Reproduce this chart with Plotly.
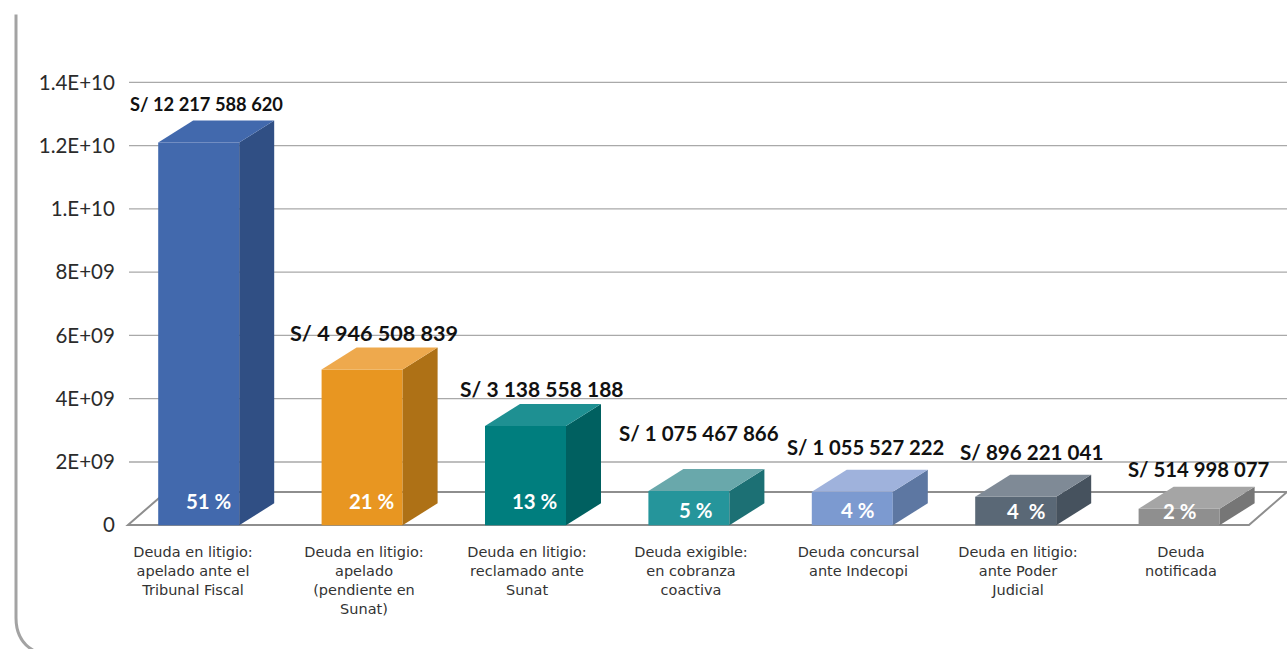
import numpy as np
import plotly.graph_objects as go

categories = [
    "Deuda en litigio:<br>apelado ante el<br>Tribunal Fiscal",
    "Deuda en litigio:<br>apelado<br>(pendiente en<br>Sunat)",
    "Deuda en litigio:<br>reclamado ante<br>Sunat",
    "Deuda exigible:<br>en cobranza<br>coactiva",
    "Deuda concursal<br>ante Indecopi",
    "Deuda en litigio:<br>ante Poder<br>Judicial",
    "Deuda<br>notificada",
]
values = [12.1e9, 4.92e9, 3.14e9, 1.08e9, 1.06e9, 0.9e9, 0.52e9]
amount_labels = ["S/ 12 217 588 620", "S/ 4 946 508 839", "S/ 3 138 558 188", "S/ 1 075 467 866",
                 "S/ 1 055 527 222", "S/ 896 221 041", "S/ 514 998 077"]
share_labels = ["51 %", "21 %", "13 %", "5 %", "4 %", "4  %", "2 %"]
y_ticks = [0, 2e9, 4e9, 6e9, 8e9, 1e10, 1.2e10, 1.4e10]
y_tick_labels = ["0", "2E+09", "4E+09", "6E+09", "8E+09", "1.E+10", "1.2E+10", "1.4E+10"]

front = ["#4269ad", "#e89621", "#007e7e", "#25959b", "#7c9ad0", "#5a6876", "#8f8f8f"]
side = ["#304f84", "#ae7116", "#006060", "#1c7074", "#5d77a2", "#46525e", "#767676"]
top = ["#4269ad", "#eea94d", "#1e9092", "#69a8ab", "#9fb2dc", "#7f8a96", "#a5a5a5"]

W, H = 1287, 649
L, R = 129, 1287
Y0, Y14 = 525.3, 82
PXY = (Y0 - Y14) / 1.4e10
YMIN, YMAX = -0.15e9, 1.42e10
T = Y14 - (YMAX - 1.4e10) * PXY
B = Y0 - YMIN * PXY
PXX = 163.4
X0PX = 198.7
XMIN, XMAX = (L - X0PX) / PXX, (R - X0PX) / PXX
BAR_W = 81 / PXX
DX, DY = 35 / PXX, 22 / PXY
x = np.arange(len(values), dtype=float)


def px(v):
    return (v - L) / (R - L)


def py(v):
    return (B - v) / (B - T)


fig = go.Figure()
fig.add_trace(go.Bar(x=x, y=values, width=BAR_W, marker=dict(color=front, line=dict(width=0)),
                     showlegend=False, hoverinfo="skip"))
for i, v in enumerate(values):
    l, r = x[i] - BAR_W / 2, x[i] + BAR_W / 2
    fig.add_trace(go.Scatter(x=[r, r + DX, r + DX, r, r], y=[0, DY, v + DY, v, 0], mode="lines",
                             fill="toself", fillcolor=side[i], line=dict(width=0), cliponaxis=False,
                             showlegend=False, hoverinfo="skip"))
    fig.add_trace(go.Scatter(x=[l, l + DX, r + DX, r, l], y=[v, v + DY, v + DY, v, v], mode="lines",
                             fill="toself", fillcolor=top[i], line=dict(width=0), cliponaxis=False,
                             showlegend=False, hoverinfo="skip"))

shapes = []
for t in y_ticks[1:]:
    shapes.append(dict(type="line", xref="paper", yref="y", x0=0, x1=1, y0=t, y1=t,
                       line=dict(color="#a9a9a9", width=1.3), layer="below"))
FLOOR_C = "#8e8e8e"
shapes.append(dict(type="path", xref="paper", yref="paper", layer="below",
                   path=f"M {px(128)} {py(525)} L {px(1249)} {py(525)} L {px(1287)} {py(492)} L {px(166)} {py(492)} Z",
                   line=dict(color=FLOOR_C, width=2)))
shapes.append(dict(type="path", xref="paper", yref="paper", layer="above",
                   path=f"M {px(16)} {py(14)} L {px(16)} {py(618)} Q {px(16)} {py(642)} {px(36)} {py(652)}",
                   line=dict(color="#a3a3a3", width=3)))

annos = []
amount_pos = [(206, 104, 18.3), (374, 333, 21.6), (542, 388, 21), (699, 433, 20.5),
              (865.5, 447, 20.2), (1031.5, 452, 20.6), (1198, 469, 20.3)]
for s, (cx, cy, fs) in zip(amount_labels, amount_pos):
    annos.append(dict(text=f"<b>{s}</b>", xref="paper", yref="paper", x=px(cx), y=py(cy), showarrow=False,
                      xanchor="center", yanchor="middle", font=dict(family="Lato", size=fs, color="#111111")))
share_pos = [(208, 501), (371, 501), (534, 501), (696, 510), (858, 510), (1026, 511), (1180, 511)]
for s, (cx, cy) in zip(share_labels, share_pos):
    annos.append(dict(text=f"<b>{s}</b>", xref="paper", yref="paper", x=px(cx), y=py(cy), showarrow=False,
                      xanchor="center", yanchor="middle", font=dict(family="Lato", size=20.4, color="#ffffff")))

tick_centers = [193, 364, 527, 691, 858.5, 1018, 1181]
fig.update_layout(
    width=W, height=H, margin=dict(l=L, r=W - R, t=T, b=H - B, pad=0),
    paper_bgcolor="white", plot_bgcolor="rgba(0,0,0,0)", barmode="overlay", shapes=shapes, annotations=annos,
    showlegend=False,
    xaxis=dict(range=[XMIN, XMAX], tickmode="array", tickvals=[(c - X0PX) / PXX for c in tick_centers],
               ticktext=categories, showgrid=False, zeroline=False, showline=False, ticks="outside",
               ticklen=9, tickcolor="rgba(0,0,0,0)", tickangle=0,
               tickfont=dict(family="DejaVu Sans", size=14.5, color="#333333")),
    yaxis=dict(range=[YMIN, YMAX], tickmode="array", tickvals=y_ticks, ticktext=y_tick_labels,
               showgrid=False, zeroline=False, showline=False, ticks="outside", ticklen=9,
               tickcolor="rgba(0,0,0,0)", tickfont=dict(family="Lato", size=20.5, color="#2b2b2b")),
)
fig.write_html("out.html", post_script="document.body.style.margin='0';document.body.style.overflow='hidden';",
               config={"displayModeBar": False})
